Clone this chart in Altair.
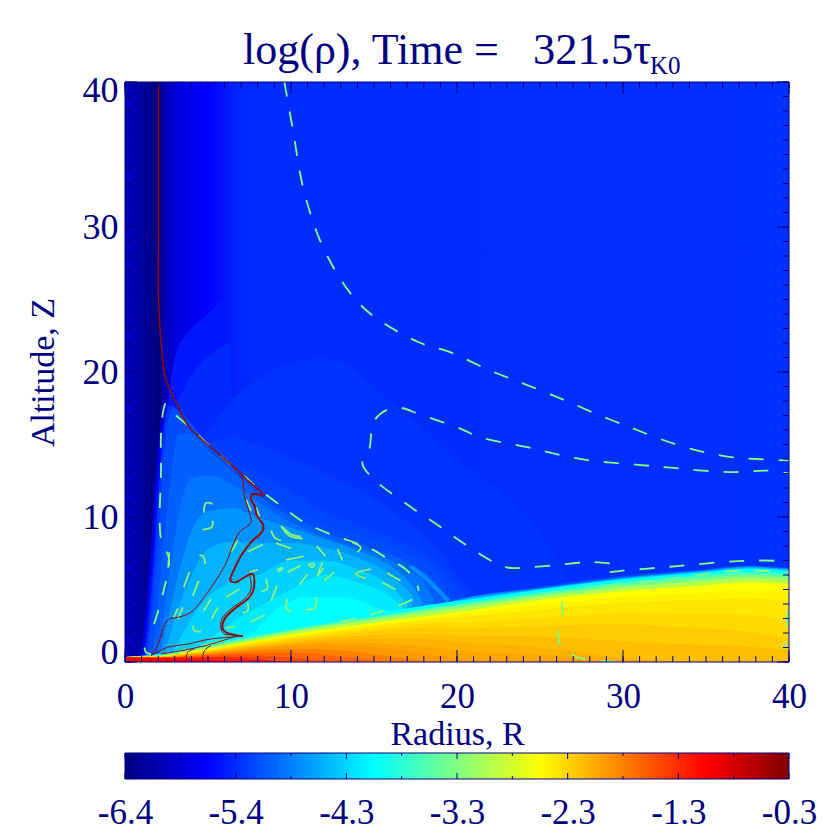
import json
import altair as alt
import pandas as pd

FONT = "Liberation Serif"
NAVY = "#000080"
GREEN = "#80ff80"
DARKRED = "#8b0a0a"

SCALE_DOMAIN = [-6.4, -5.6375, -4.1125, -2.5875, -1.0625, -0.3]
SCALE_RANGE = ["#000080", "#0000ff", "#00ffff", "#ffff00", "#ff0000", "#800000"]

BG_STOPS = [(0, "#0000c0"), (0.02, "#0000a8"), (0.04, "#00008a"), (0.052, "#000080"), (0.058, "#0000b0"),
            (0.08, "#0000e0"), (0.125, "#0000ff"), (0.142, "#000cff"), (0.152, "#0016ff"), (0.168, "#0024ff"), (0.2, "#002cff"), (1, "#0030ff")]

# (log rho, radius nodes, upper edge of the region at that level)
FIELD_BANDS = [
    (-5.5, [2.6, 3, 4, 5, 6, 6.2], [17.8, 21, 23, 24, 25, 0]),
    (-5.4, [3, 3.6, 4.5, 5.5, 6.3, 6.7], [17.4, 19, 20.5, 21.5, 22, 0]),
    (-5.33, [4.5, 6, 8, 12, 16, 20, 25, 27], [15, 17.5, 19.5, 21, 18, 14, 9, 5]),
    (-5.28, [5, 6.5, 8, 12, 16, 19, 21], [15, 15.5, 15, 13, 10.5, 7.5, 4.5]),
    (-5.23, [7, 9, 12, 16, 18.5, 20.5], [13.6, 12.5, 10.5, 8.6, 7.2, 4.6]),
    (-5.8, [0.9, 1.2, 1.5, 1.8, 2.1, 2.4, 2.7, 2.9], [0, 3, 7, 12, 16, 17.9, 17.6, 0]),
    (-5.55, [1.05, 1.35, 1.65, 1.95, 2.25, 2.6, 3, 3.2], [0, 3, 7, 12, 16, 17.8, 17.4, 0]),
    (-5.3, [1.15, 1.45, 1.75, 2.05, 2.35, 2.7, 3.2, 3.4], [0, 3, 7, 12, 16, 17.7, 17.2, 0]),
    (-5.18, [1.3, 1.6, 1.9, 2.2, 2.5, 2.9, 3.5, 5, 6.8, 8.2, 9.6, 12, 15, 17, 18.5, 19.3, 19.7, 20],
     [0, 3, 7, 12, 16, 17.5, 17, 15.1, 13.2, 11.8, 10.7, 9.5, 8.4, 7.5, 6.5, 5.2, 4.4, 4]),
    (-5.06, [1.6, 1.9, 2.3, 2.8, 3.2, 3.8, 5, 6.8, 8.2, 9.6, 12, 15, 17, 18.3, 19.1, 19.5],
     [0, 3, 8, 13, 15.7, 15.8, 14.6, 12.8, 11.4, 10.3, 9, 7.8, 6.9, 5.9, 4.9, 4.2]),
    (-4.94, [1.9, 2.3, 2.8, 3.3, 4, 5, 6.8, 8.2, 9.6, 12, 15, 17, 18, 18.6],
     [0, 3, 7, 10.5, 12.7, 12.9, 12, 10.9, 9.9, 8.6, 7.5, 6.4, 5.5, 4.3]),
    (-4.75, [2, 2.5, 3.2, 4, 5, 6.5, 8, 9.6, 12, 14, 16, 17.3, 17.9],
     [0, 2.5, 6, 9, 10.4, 10.6, 10, 9.4, 8.5, 7.7, 6.6, 5.3, 4.2]),
    (-4.57, [2.3, 3, 4, 5, 6.5, 8, 10, 12, 14, 16, 17.3],
     [0, 3, 6, 7.8, 8.3, 8.2, 8.2, 7.9, 7.2, 6, 4.6]),
    (-4.39, [2.6, 3.5, 5, 6.5, 8, 10, 12, 14, 16, 17],
     [0, 2, 4.5, 5.5, 6, 7, 7, 6.4, 5.2, 4]),
    (-4.23, [3, 5, 6.5, 8, 10, 12, 14, 16, 17],
     [0, 1.5, 2.8, 3.8, 5, 6, 5.5, 4.5, 3.4]),
    (-4.11, [4, 7, 9, 11, 13, 16, 18],
     [0, 1.2, 3.5, 4.5, 4.5, 3.5, 3.4]),
    (-5.18, [19.3, 19.7, 20, 25, 30, 35, 37.5, 40], [4, 4.35, 4.4, 5.2, 5.95, 6.4, 6.65, 6.5]),
    (-4.9, [19.5, 20, 25, 30, 35, 37.5, 40], [4.1, 4.3, 5.1, 5.85, 6.35, 6.6, 6.45]),
    (-4.57, [19.5, 20, 25, 30, 35, 37.5, 40], [4.1, 4.25, 5.05, 5.8, 6.3, 6.55, 6.4]),
]

DISC_X = [0, 2, 4, 7, 10, 13, 16, 19, 20, 25, 30, 35, 37.5, 40]
DISC_BANDS = [
    (-4.11, [.35, .55, .95, 1.75, 2.4, 2.95, 3.5, 4.05, 4.2, 5, 5.7, 6.2, 6.45, 6.3]),
    (-3.66, [.35, .5, .9, 1.6, 2.25, 2.8, 3.3, 3.85, 4, 4.8, 5.5, 6, 6.2, 6.1]),
    (-3.35, [.35, .45, .85, 1.5, 2.15, 2.7, 3.2, 3.7, 3.85, 4.65, 5.3, 5.8, 6, 5.9]),
    (-3.05, [.35, .42, .8, 1.42, 2.05, 2.6, 3.05, 3.55, 3.7, 4.5, 5.15, 5.6, 5.8, 5.7]),
    (-2.59, [.35, .4, .72, 1.3, 1.9, 2.4, 2.85, 3.3, 3.45, 4.3, 4.9, 5.3, 5.5, 5.4]),
    (-2.52, [.35, .39, .68, 1.25, 1.8, 2.28, 2.72, 3.15, 3.28, 3.95, 4.5, 4.8, 4.95, 4.8]),
    (-2.44, [.35, .38, .65, 1.2, 1.7, 2.15, 2.6, 3, 3.1, 3.6, 4.1, 4.3, 4.4, 4.2]),
    (-2.36, [.35, .37, .62, 1.12, 1.6, 2.02, 2.4, 2.7, 2.7, 3.05, 3.35, 3.3, 3.25, 2.9]),
    (-2.28, [.35, .36, .6, 1.05, 1.5, 1.9, 2.2, 2.4, 2.3, 2.5, 2.6, 2.3, 2.1, 1.6]),
    (-2.2, [.35, .35, .57, 1, 1.4, 1.72, 1.9, 1.95, 1.85, 1.75, 1.45, 1.15, 1.05, .8]),
    (-2.13, [.35, .34, .55, .95, 1.3, 1.55, 1.6, 1.5, 1.4, 1, .3, 0, 0, 0]),
    (-2.05, [.35, .33, .52, .9, 1.2, 1.37, 1.25, .95, .8, .5, .15, 0, 0, 0]),
    (-1.98, [.35, .33, .5, .85, 1.1, 1.2, .9, .4, .2, 0, 0, 0, 0, 0]),
    (-1.83, [.35, .32, .45, .75, .9, .8, .4, 0, 0, 0, 0, 0, 0, 0]),
    (-1.67, [.35, .31, .42, .6, .65, .4, 0, 0, 0, 0, 0, 0, 0, 0]),
    (-1.52, [.35, .3, .38, .5, .3, 0, 0, 0, 0, 0, 0, 0, 0, 0]),
    (-1.37, [.35, .3, .33, .35, 0, 0, 0, 0, 0, 0, 0, 0, 0, 0]),
    (-1.22, [.35, .28, .28, .2, 0, 0, 0, 0, 0, 0, 0, 0, 0, 0]),
    (-1.06, [.35, .25, .2, 0, 0, 0, 0, 0, 0, 0, 0, 0, 0, 0]),
]

HALO_ARC = [[(17.2, 6.6), (18.2, 5.7), (18.9, 4.9), (19.5, 4.2)]]

DASHED_CONTOURS = [
    [(9.6, 40), (10.1, 36.8), (10.8, 32.4), (12.1, 28.2), (14.3, 24.5), (17.6, 22.1), (19.5, 21.4), (22, 20.1),
     (24, 19.2), (26.4, 18.1), (28.6, 17), (30.4, 16.2), (32.2, 15.4), (34.1, 14.7), (36.1, 14.2), (38, 14), (40, 13.9)],
    [(29.2, 6.8), (28, 6.9), (26.1, 6.7), (24, 6.5), (23.1, 6.5), (22.2, 6.9), (20.5, 8.1), (18.9, 9.4), (17.2, 10.7),
     (15, 12.6), (14.3, 13.7), (14.7, 14.6), (15, 16.6), (15.8, 17.4), (16.7, 17.5), (17.7, 17.1), (20.2, 16.1),
     (21.4, 15.5), (24.3, 14.8), (26.1, 14.3), (28, 13.9), (30.9, 13.6), (32.9, 13.4), (34.8, 13.2), (36.8, 13.1),
     (38.7, 13.2), (40, 13)],
    [(29.2, 6.2), (30, 6.3), (32.1, 6.5), (34.1, 6.7), (36.1, 6.9), (38, 7), (40, 6.95)],
    [(27.2, 4.75), (30, 5.4), (32, 5.6), (33.9, 5.9), (35.9, 6.2), (37.8, 6.3), (40, 6.2)],
    [(26.3, 4.2), (26.4, 3.6), (26.3, 3.1), (26.1, 1.9), (26.3, 1), (27.2, .35), (28, .15), (30, 0)],
    [(39.9, 3.5), (39.8, 2), (39.7, .9)],
    [(1.75, 2.6), (2.3, 4.8), (2.65, 7.1), (2.17, 8.5), (2.17, 13.3), (2.17, 15.7), (2.3, 17.3), (2.5, 18.1)],
    [(3.07, 17), (3.8, 16.3), (5, 15), (6.8, 13.2), (8.2, 11.8), (9.6, 10.6), (10.7, 9.7), (12.4, 8.8), (14.2, 8.1),
     (15, 7.7), (16, 7), (16.8, 6.5), (17.5, 5.6), (17.7, 4.9)],
    [(17.3, 4.3), (16.5, 3.9), (14.6, 3.2), (12.6, 2.7)],
]

SHORT_CONTOURS = [
    [(5.28, 10.9), (4.88, 10.97), (4.74, 10.3)], [(5.28, 9.75), (5.22, 9.3), (4.68, 9.13)],
    [(4.48, 7.35), (4.7, 7.3), (4.84, 6.75)], [(2.67, 7.57), (2.6, 6.5)], [(3.88, 6.2), (3.54, 5.15)],
    [(4.44, 5.6), (4.08, 4.58)], [(3.48, 3.77), (3.18, 2.97)], [(3.18, 3.7), (2.94, 3.08)],
    [(5.18, 4.35), (4.74, 3.54)], [(5.59, 3.77), (5.22, 2.97)], [(4.08, 2.5), (4.18, 2.16), (4.58, 2.1)],
    [(6.59, 2.46), (6.09, 2.35)], [(8.4, 3.24), (7.6, 2.78)], [(7.39, 4.12), (7.39, 3.54), (7.09, 3.38)],
    [(6.89, 5.04), (6.09, 4.46)], [(8, 6.37), (7.5, 6.2)], [(8.5, 5.73), (8.56, 5.04), (8.2, 4.85)],
    [(9.16, 5.27), (8.8, 4.23)], [(9.8, 4.35), (9.7, 3.77), (10, 3.47)], [(11.5, 4.46), (11.45, 3.77), (10.9, 3.59)],
    [(11, 6.07), (10.5, 5.31)], [(10.57, 6.65), (9.8, 6.2)], [(9.7, 7.04), (10.77, 7.29)],
    [(9.2, 6.4), (9.5, 6.5), (9.3, 6.25), (9.2, 6.4)], [(11.1, 6.76), (11.4, 6.76), (11.3, 6.53), (11.1, 6.65), (11.1, 6.76)],
    [(11.9, 6.88), (11.6, 5.96), (11.95, 6.5)], [(12.6, 6.2), (12, 5.6)], [(14.8, 6.4), (13.9, 6.07), (14.5, 5.77)],
    [(15.8, 6.14), (16.6, 5.61)], [(15.5, 5.5), (16.3, 5)], [(12.8, 7.8), (13.1, 7)], [(11.55, 8), (12.07, 7.3)],
    [(8.8, 9.06), (9, 8.6), (9.4, 8.37)], [(9.4, 9.4), (9.9, 8.7), (10.7, 8.5)], [(9.5, 9.3), (10, 8.8), (10.6, 8.65)],
    [(9.1, 8.2), (10, 7.84)], [(7.4, 7.6), (8.3, 8.1)], [(6.4, 7.6), (6.8, 8.4)], [(7.3, 11.2), (7.6, 10.4)],
    [(7.9, 10.67), (8.1, 10)], [(13.7, 8.25), (14.2, 7.9), (14, 7.57)], [(1.17, 1), (1.27, .67), (1.57, .55)],
    [(2.97, .55), (3.68, .9)], [(4.6, 1.13), (6, 1.47)],
]

RED_THICK = [
    [(7.4, 12.5), (8.36, 11.47), (7.69, 11.59), (7.59, 11.24), (7.8, 10.78), (7.95, 10.09), (8.3, 9.52),
     (8.3, 9.06), (7.59, 8.25), (7, 7.34), (6.59, 6.42), (6.35, 5.61), (6.69, 5.5), (7.19, 5.84), (7.69, 6.07),
     (7.75, 5.04), (7.39, 4.35), (6.59, 3.66), (5.99, 2.97), (5.89, 2.28), (6.09, 2.05), (7.09, 1.77)],
]
RED_MID = [
    [(2.03, 40), (2.03, 30), (2.03, 24.8), (2.17, 22), (2.47, 19.5), (3.2, 17.6), (3.8, 16.3), (6, 14), (6.8, 13.2),
     (7.4, 12.5)],
]
RED_THIN = [
    [(6.8, 13.2), (7.09, 12.62), (7.19, 11.47), (7.49, 10.32), (7.59, 9.63), (6.89, 8.94), (6.49, 8.03), (6.19, 7.1), (5.79, 6.19),
     (4.98, 4.81), (3.98, 3.43), (3.18, 3.08), (2.67, 2.97), (2.37, 2.51), (1.97, 1.13), (1.57, .44)],
    [(7.09, 1.77), (5.18, 1.59), (3.78, 1.24), (2.57, 1.01), (1.57, .44)],
    [(7.49, 6.07), (7.59, 5.04), (7.19, 4.35), (6.39, 3.66), (5.83, 2.97), (5.79, 2.28), (5.99, 1.93), (6.69, 1.84),
     (5.18, 1.24), (4.38, 1.01), (3.38, .78), (2.17, .55)],
    [(2.37, .32), (2.67, 0)], [(3.68, 0), (3.78, .67), (4.18, .9)], [(4.68, 0), (4.78, .78), (5.18, 1.13)],
    [(1.37, .32), (1.67, 0)],
]

X_LABELS = [0, 10, 20, 30, 40]
Y_LABELS = [0, 10, 20, 30, 40]
MINOR_TICKS = list(range(0, 41))
CBAR_RANGE = (-6.4, -0.3)
CBAR_TICKS = [-6.4, -5.3833, -4.3667, -3.35, -2.3333, -1.3167, -0.3]
CBAR_LABELS = ["-6.4", "-5.4", "-4.3", "-3.3", "-2.3", "-1.3", "-0.3"]
CBAR_MINOR = [-5.8917, -4.875, -3.8583, -2.8417, -1.825, -0.8083]

W, H = 664, 580
xs = alt.Scale(domain=[0, 40], nice=False)
ys = alt.Scale(domain=[0, 40], nice=False)
cs = alt.Scale(domain=SCALE_DOMAIN, range=SCALE_RANGE, interpolate="rgb")

x_axis = alt.Axis(values=X_LABELS, title="Radius, R", domain=False, ticks=False, grid=False, labelFont=FONT,
                  labelFontSize=35, labelColor=NAVY, labelPadding=17, titleFont=FONT, titleFontSize=34,
                  titleFontWeight="normal", titleColor=NAVY, titlePadding=3, labelFlush=False)
y_axis = alt.Axis(values=Y_LABELS, title="Altitude, Z", domain=False, ticks=False, grid=False, labelFont=FONT,
                  labelFontSize=36, labelColor=NAVY, labelPadding=7, titleFont=FONT, titleFontSize=34,
                  titleFontWeight="normal", titleColor=NAVY, titlePadding=22, labelFlush=True, labelFlushOffset=9)


def X():
    return alt.X("x:Q", scale=xs, axis=x_axis)


def Y():
    return alt.Y("z:Q", scale=ys, axis=y_axis)


layers = []
stops = [alt.GradientStop(offset=o, color=c) for o, c in BG_STOPS]
layers.append(
    alt.Chart(pd.DataFrame({"x": [0], "x2": [40], "z": [0], "z2": [40]}))
    .mark_rect(color=alt.Gradient(gradient="linear", stops=stops, x1=0, x2=1, y1=0, y2=0))
    .encode(x=X(), x2="x2:Q", y=Y(), y2="z2:Q")
)


def band(level, nodes, tops):
    df = pd.DataFrame({"x": nodes, "z": tops, "b": [0] * len(nodes), "level": [level] * len(nodes)})
    return alt.Chart(df).mark_area(interpolate="monotone", clip=True).encode(
        x=X(), y=Y(), y2="b:Q", color=alt.Color("level:Q", scale=cs, legend=None))


def lines(groups):
    rows = []
    for g, pts in enumerate(groups):
        for i, (a, b) in enumerate(pts):
            rows.append({"x": a, "z": b, "g": g, "i": i})
    return pd.DataFrame(rows)


def line_layer(groups, color, width, dash=None, opacity=1):
    kw = {"strokeDash": dash} if dash else {}
    return alt.Chart(lines(groups)).mark_line(color=color, strokeWidth=width, clip=True, opacity=opacity,
                                              interpolate="catmull-rom", **kw).encode(
        x=X(), y=Y(), detail="g:N", order="i:Q")


for lv, nodes, tops in FIELD_BANDS:
    layers.append(band(lv, nodes, tops))
layers.append(line_layer(HALO_ARC, "#0098ff", 4, opacity=0.8))
for lv, tops in DISC_BANDS:
    layers.append(band(lv, DISC_X, tops))

layers.append(line_layer(DASHED_CONTOURS, GREEN, 1.8, [15, 15]))
layers.append(line_layer(SHORT_CONTOURS, "#8cf27a", 1.8))
layers.append(line_layer(RED_THIN, DARKRED, 1.0))
layers.append(line_layer(RED_MID, DARKRED, 1.5))
layers.append(line_layer(RED_THICK, DARKRED, 2.0))


def xticks(values, y0, y1):
    df = pd.DataFrame({"x": values})
    return alt.Chart(df).mark_rule(color=NAVY, strokeWidth=1).encode(
        x=X(), y=alt.value(y0), y2=alt.value(y1))


def yticks(values, x0, x1):
    df = pd.DataFrame({"z": values})
    return alt.Chart(df).mark_rule(color=NAVY, strokeWidth=1).encode(
        y=Y(), x=alt.value(x0), x2=alt.value(x1))


layers += [
    xticks(MINOR_TICKS, H, H - 6), xticks(MINOR_TICKS, 0, 6), xticks(X_LABELS, H, H - 12), xticks(X_LABELS, 0, 12),
    yticks(MINOR_TICKS, 0, 6), yticks(MINOR_TICKS, W, W - 6), yticks(Y_LABELS, 0, 12), yticks(Y_LABELS, W, W - 12),
]
frame_df = pd.DataFrame({"a": [0]})
layers.append(alt.Chart(frame_df).mark_rect(filled=False, stroke=NAVY, strokeWidth=1).encode(
    x=alt.value(0), x2=alt.value(W), y=alt.value(0), y2=alt.value(H)))
for text, size, px, py in [("log(\u03c1), Time =", 44, 118, -18), ("321.5\u03c4", 44.5, 408, -18), ("K0", 25, 525, -8)]:
    layers.append(alt.Chart(pd.DataFrame({"t": [text]})).mark_text(
        font=FONT, fontSize=size, color=NAVY, align="left", baseline="alphabetic").encode(
        text="t:N", x=alt.value(px), y=alt.value(py)))

main = alt.layer(*layers).properties(width=W, height=H).resolve_scale(color="shared")

cx = alt.Scale(domain=list(CBAR_RANGE), nice=False)
cbar_stops = [alt.GradientStop(offset=(d - CBAR_RANGE[0]) / (CBAR_RANGE[1] - CBAR_RANGE[0]), color=c)
              for d, c in zip(SCALE_DOMAIN, SCALE_RANGE)]
label_expr = json.dumps(CBAR_LABELS) + "[round((datum.value+6.4)/1.01667)]"
cbar_axis = alt.Axis(values=CBAR_TICKS, title=None, domain=False, ticks=False, grid=False,
                     labelExpr=label_expr, labelFont=FONT, labelFontSize=35, labelColor=NAVY,
                     labelPadding=16, labelFlush=False, labelOverlap=False)
cbar_h = 26
cbar = alt.layer(
    alt.Chart(pd.DataFrame({"a": [CBAR_RANGE[0]], "b": [CBAR_RANGE[1]]})).mark_rect(
        color=alt.Gradient(gradient="linear", stops=cbar_stops, x1=0, x2=1, y1=0, y2=0)).encode(
        x=alt.X("a:Q", scale=cx, axis=cbar_axis), x2="b:Q", y=alt.value(0), y2=alt.value(cbar_h)),
    *[alt.Chart(pd.DataFrame({"a": v})).mark_rule(color=NAVY, strokeWidth=1).encode(
        x=alt.X("a:Q", scale=cx, axis=cbar_axis), y=alt.value(y0), y2=alt.value(y1))
      for v, y0, y1 in [(CBAR_TICKS, 0, 6), (CBAR_TICKS, cbar_h, cbar_h - 6), (CBAR_MINOR, 0, 3), (CBAR_MINOR, cbar_h, cbar_h - 3)]],
    alt.Chart(frame_df).mark_rect(filled=False, stroke=NAVY, strokeWidth=1).encode(
        x=alt.value(0), x2=alt.value(W), y=alt.value(0), y2=alt.value(cbar_h)),
).properties(width=W, height=cbar_h)

chart = alt.vconcat(main, cbar, spacing=91, bounds="flush").properties(
    padding={"left": 18, "top": 20, "right": 0, "bottom": 0}, background="white"
).configure_view(stroke=None)

chart.save("out.html", embed_options={"renderer": "svg", "actions": False})
